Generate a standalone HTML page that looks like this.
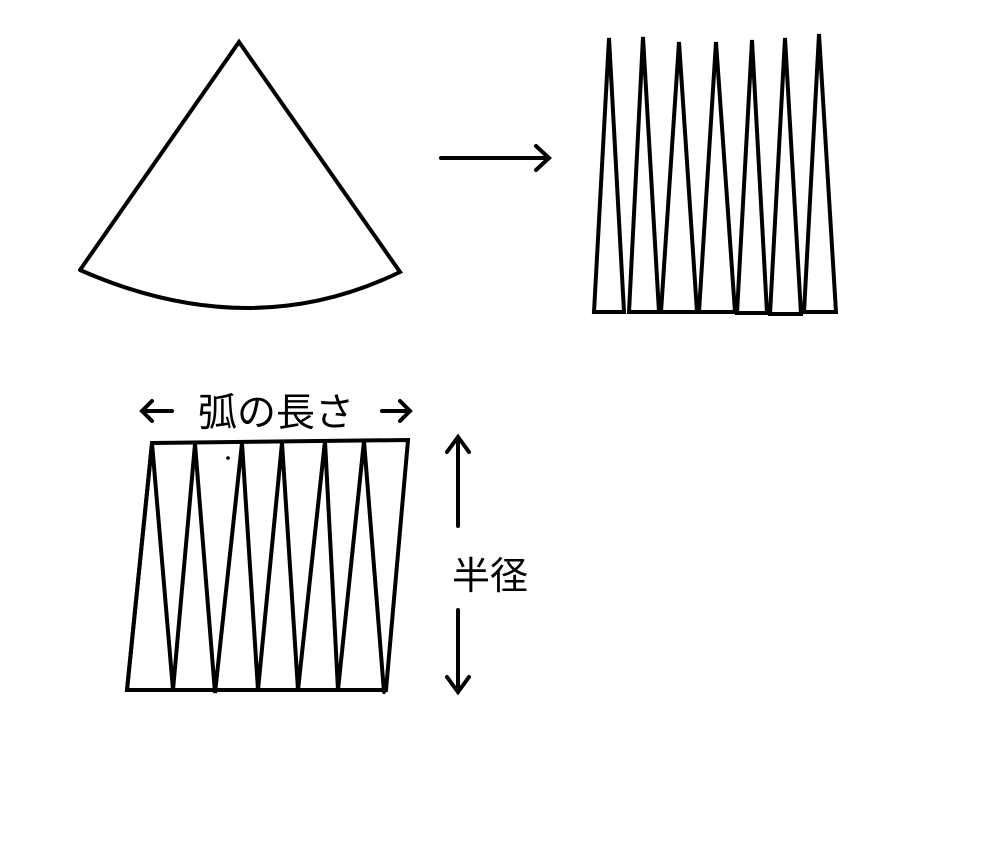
<!DOCTYPE html>
<html><head><meta charset="utf-8"><style>
body{margin:0;background:#fff;width:999px;height:848px;overflow:hidden}
text{font-family:"Liberation Sans","Noto Sans CJK JP",sans-serif;fill:#000}
</style></head><body>
<svg width="999" height="848" viewBox="0 0 999 848" xmlns="http://www.w3.org/2000/svg">
<g fill="none" stroke="#000" stroke-width="4" stroke-linejoin="miter" stroke-linecap="round">
<path d="M80,270 L239,42 L400,272 Q250,345 80,270"/>
<path d="M441,158 L549,158 M536,146 L549,158 L536,170"/>
<path d="M594,312 L609,38 L624,312 Z"/>
<path d="M629,312 L643,37 L659,312 Z"/>
<path d="M661,312 L679,42 L697,312 Z"/>
<path d="M699,312 L716,42 L735,312 Z"/>
<path d="M737,313 L752,40 L767,313 Z"/>
<path d="M770,314 L785,38 L801,314 Z"/>
<path d="M804,312 L819,34 L836,312 Z"/>
<path d="M152,443 L408,440 L386,690 L127,690 Z"/>
<path d="M127,690 L152,443 L173,690 L195,444 L215,693 L242,443 L258,690 L282,443 L298,690 L325,441 L338,690 L364,441 L384,692"/>
<path d="M458,437 L458,526 M447,452 L458,437 L469,452 M458,610 L458,692 M447,677 L458,692 L469,677"/>
<path d="M142,411 L172,411 M152,401 L142,411 L152,421 M382,411 L410,411 M400,401 L410,411 L400,421"/>
</g>
<circle cx="228" cy="458" r="1.8" fill="#000"/>
<text x="198" y="426" font-size="39">弧の長さ</text>
<text x="452" y="589" font-size="38">半径</text>
</svg>
</body></html>
